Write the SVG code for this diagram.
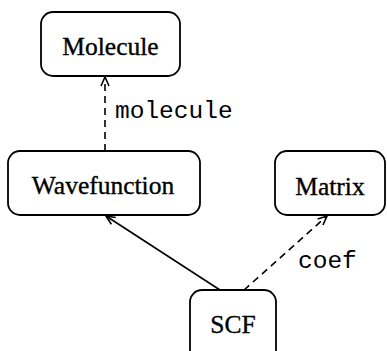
<svg xmlns="http://www.w3.org/2000/svg" width="387" height="351" viewBox="0 0 387 351">
<defs>
<style>
.box{fill:#fff;stroke:#000;stroke-width:1.8}
.lbl{font-family:"Liberation Serif","Times New Roman",serif;font-size:25.5px;fill:#000;stroke:#000;stroke-width:0.35;text-anchor:middle}
.mono{font-family:"Liberation Mono","Courier New",monospace;font-size:24.5px;fill:#000}
.edge{fill:none;stroke:#000;stroke-width:1.6}
.dash{stroke-dasharray:7 5}
</style>
<marker id="open" markerWidth="12" markerHeight="12" refX="10" refY="5" orient="auto" markerUnits="userSpaceOnUse">
<path d="M1,1 L10,5 L1,9" fill="none" stroke="#000" stroke-width="1.6"/>
</marker>
</defs>
<rect width="387" height="351" fill="#fff"/>
<g id="connectors">
<line class="edge dash" x1="105" y1="151" x2="105" y2="77" marker-end="url(#open)"/>
<line class="edge" x1="220" y1="290" x2="106" y2="216" marker-end="url(#open)"/>
<line class="edge dash" x1="244" y1="290" x2="327" y2="216" marker-end="url(#open)"/>
<text class="mono" x="115" y="118">molecule</text>
<text class="mono" x="298" y="268">coef</text>
</g>
<g id="Molecule">
<rect class="box" x="41" y="12" width="139" height="64" rx="12"/>
<text class="lbl" x="110.5" y="55">Molecule</text>
</g>
<g id="Wavefunction">
<rect class="box" x="8" y="151" width="192" height="64" rx="12"/>
<text class="lbl" x="103" y="194">Wavefunction</text>
</g>
<g id="Matrix">
<rect class="box" x="275" y="151" width="110" height="64" rx="12"/>
<text class="lbl" x="330" y="195">Matrix</text>
</g>
<g id="SCF">
<rect class="box" x="190" y="290" width="86" height="75" rx="12"/>
<text class="lbl" x="233" y="333">SCF</text>
</g>
</svg>
